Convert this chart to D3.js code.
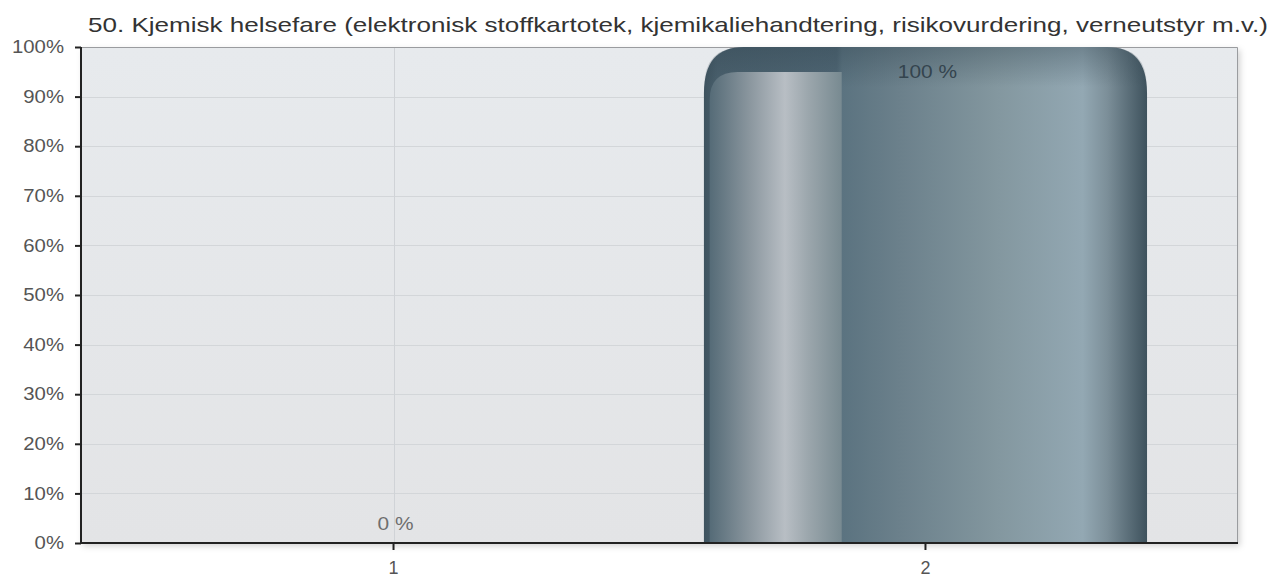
<!DOCTYPE html>
<html><head><meta charset="utf-8">
<script src="https://cdn.jsdelivr.net/npm/d3@7"></script>
<style>
html,body{margin:0;padding:0;background:#fff;}
svg{display:block;font-family:"Liberation Sans",Arial,Helvetica,sans-serif;}
</style></head>
<body>
<svg id="chart" width="1274" height="578"></svg>
<script>
const title = "50. Kjemisk helsefare (elektronisk stoffkartotek, kjemikaliehandtering, risikovurdering, verneutstyr m.v.)";
const categories = ["1", "2"];
const values = [0, 100];
const valueLabels = ["0 %", "100 %"];
const yTicks = [0, 10, 20, 30, 40, 50, 60, 70, 80, 90, 100];
const yTickLabels = ["0%", "10%", "20%", "30%", "40%", "50%", "60%", "70%", "80%", "90%", "100%"];

const W = 1274, H = 578;
const margin = {top: 47, right: 36, bottom: 35, left: 81};
const svg = d3.select("#chart");
const defs = svg.append("defs");

function stretch(sel, f) {
  sel.each(function () {
    const L = this.getComputedTextLength();
    d3.select(this).attr("textLength", L * f).attr("lengthAdjust", "spacingAndGlyphs");
  });
}

const x = d3.scaleBand().domain(categories)
  .range([margin.left, W - margin.right])
  .paddingInner(0.167).paddingOuter(0.171);
const y = d3.scaleLinear().domain([0, 100]).range([H - margin.bottom, margin.top]);

// gradients
const bgGrad = defs.append("linearGradient").attr("id", "bg").attr("x1", 0).attr("y1", 0).attr("x2", 0).attr("y2", 1);
bgGrad.append("stop").attr("offset", 0).attr("stop-color", "#e7eaed");
bgGrad.append("stop").attr("offset", 1).attr("stop-color", "#e3e4e6");

const shadow = defs.append("filter").attr("id", "shadow").attr("x", "-5%").attr("y", "-5%").attr("width", "110%").attr("height", "115%");
shadow.append("feDropShadow").attr("dx", 2).attr("dy", 3).attr("stdDeviation", 3).attr("flood-color", "#000").attr("flood-opacity", 0.18);

const barGrad = defs.append("linearGradient").attr("id", "barGrad").attr("x1", 0).attr("y1", 0).attr("x2", 1).attr("y2", 0);
[[0, "#3e535f"], [0.03, "#4a606d"], [0.30, "#4f6674"], [0.312, "#5b7380"], [0.44, "#6b808b"],
 [0.66, "#83979f"], [0.855, "#93a8b3"], [0.91, "#7c8f99"], [1, "#3e525d"]]
  .forEach(s => barGrad.append("stop").attr("offset", s[0]).attr("stop-color", s[1]));

const hlGrad = defs.append("linearGradient").attr("id", "hlGrad").attr("x1", 0).attr("y1", 0).attr("x2", 1).attr("y2", 0);
[[0, "#556b77"], [0.3, "#8a969e"], [0.57, "#b8bec4"], [0.75, "#9ba6ac"], [1, "#788a91"]]
  .forEach(s => hlGrad.append("stop").attr("offset", s[0]).attr("stop-color", s[1]));

const topGrad = defs.append("linearGradient").attr("id", "topGrad").attr("x1", 0).attr("y1", 0).attr("x2", 0).attr("y2", 1);
topGrad.append("stop").attr("offset", 0).attr("stop-color", "#2e414c").attr("stop-opacity", 0.35);
topGrad.append("stop").attr("offset", 1).attr("stop-color", "#2e414c").attr("stop-opacity", 0);

// plot background
const x0 = margin.left, x1 = W - margin.right, yTop = margin.top, yBot = H - margin.bottom;
svg.append("rect").attr("x", x0).attr("y", yTop).attr("width", x1 - x0).attr("height", yBot - yTop)
  .attr("fill", "url(#bg)").attr("filter", "url(#shadow)");

// grid
svg.append("g").selectAll("line").data(yTicks.slice(1, -1)).join("line")
  .attr("x1", x0).attr("x2", x1).attr("y1", d => Math.round(y(d)) + 0.5).attr("y2", d => Math.round(y(d)) + 0.5)
  .attr("stroke", "#d3d6d9").attr("stroke-width", 1);
svg.append("g").selectAll("line").data(categories).join("line")
  .attr("x1", d => Math.round(x(d) + x.bandwidth() / 2) + 0.5).attr("x2", d => Math.round(x(d) + x.bandwidth() / 2) + 0.5)
  .attr("y1", yTop).attr("y2", yBot).attr("stroke", "#d0d3d7").attr("stroke-width", 1);

// top/right border
svg.append("path").attr("d", `M${x0},${yTop + 0.5}H${x1 - 0.5}V${yBot}`)
  .attr("fill", "none").attr("stroke", "#9a9c9f").attr("stroke-width", 1);

// bars
function barPath(bx, by, bw, bh, rx, ry) {
  rx = Math.min(rx, bw / 2); ry = Math.min(ry, bh);
  return `M${bx},${by + bh}V${by + ry}Q${bx},${by} ${bx + rx},${by}H${bx + bw - rx}Q${bx + bw},${by} ${bx + bw},${by + ry}V${by + bh}Z`;
}
const bars = svg.append("g");
categories.forEach((c, i) => {
  const v = values[i];
  if (v <= 0) return;
  const bx = x(c), bw = x.bandwidth(), by = y(v), bh = y(0) - y(v);
  bars.append("path").attr("d", barPath(bx, by, bw, bh, 40, 46)).attr("fill", "url(#barGrad)");
  bars.append("path").attr("d", barPath(bx, by, bw, Math.min(bh, 40), 40, 46)).attr("fill", "url(#topGrad)");
  // inner highlight
  const hx = bx + bw * 0.013, hw = bw * 0.298, hy = by + 25, hh = bh - 25;
  bars.append("path")
    .attr("d", `M${hx},${hy + hh}V${hy + 28}Q${hx},${hy} ${hx + 28},${hy}H${hx + hw}V${hy + hh}Z`)
    .attr("fill", "url(#hlGrad)");
});

// value labels
const vl = svg.append("g").selectAll("text").data(categories).join("text")
  .attr("x", d => x(d) + x.bandwidth() / 2 + 2)
  .attr("y", (d, i) => values[i] > 0 ? y(values[i]) + 31 : y(0) - 13)
  .attr("text-anchor", "middle").attr("font-size", 18)
  .attr("fill", (d, i) => values[i] > 0 ? "#34444e" : "#6e6e6e")
  .text((d, i) => valueLabels[i]);
stretch(vl, 1.16);

// axes
const yAxis = d3.axisLeft(y).tickValues(yTicks).tickFormat((d, i) => yTickLabels[i]).tickSize(6).tickPadding(11);
const gy = svg.append("g").attr("transform", `translate(${x0},0)`).call(yAxis);
gy.select(".domain").remove();
gy.selectAll(".tick line").attr("stroke", "#222").attr("stroke-width", 2);
gy.selectAll(".tick text").attr("font-size", 18).attr("fill", "#555").attr("font-family", "Liberation Sans, Arial, sans-serif");
stretch(gy.selectAll(".tick text"), 1.13);

const xAxis = d3.axisBottom(x).tickSize(7).tickPadding(11);
const gx = svg.append("g").attr("transform", `translate(0,${yBot})`).call(xAxis);
gx.select(".domain").remove();
gx.selectAll(".tick line").attr("stroke", "#222").attr("stroke-width", 2);
gx.selectAll(".tick text").attr("font-size", 18).attr("fill", "#555").attr("font-family", "Liberation Sans, Arial, sans-serif");

svg.append("line").attr("x1", x0).attr("x2", x0).attr("y1", yTop).attr("y2", yBot + 1).attr("stroke", "#222").attr("stroke-width", 2);
svg.append("line").attr("x1", x0 - 1).attr("x2", x1).attr("y1", yBot).attr("y2", yBot).attr("stroke", "#222").attr("stroke-width", 2);

// title
const t = svg.append("text").attr("x", 678).attr("y", 32).attr("text-anchor", "middle")
  .attr("font-size", 21).attr("fill", "#333").text(title);
t.attr("textLength", 1180).attr("lengthAdjust", "spacingAndGlyphs");
</script>
</body></html>
